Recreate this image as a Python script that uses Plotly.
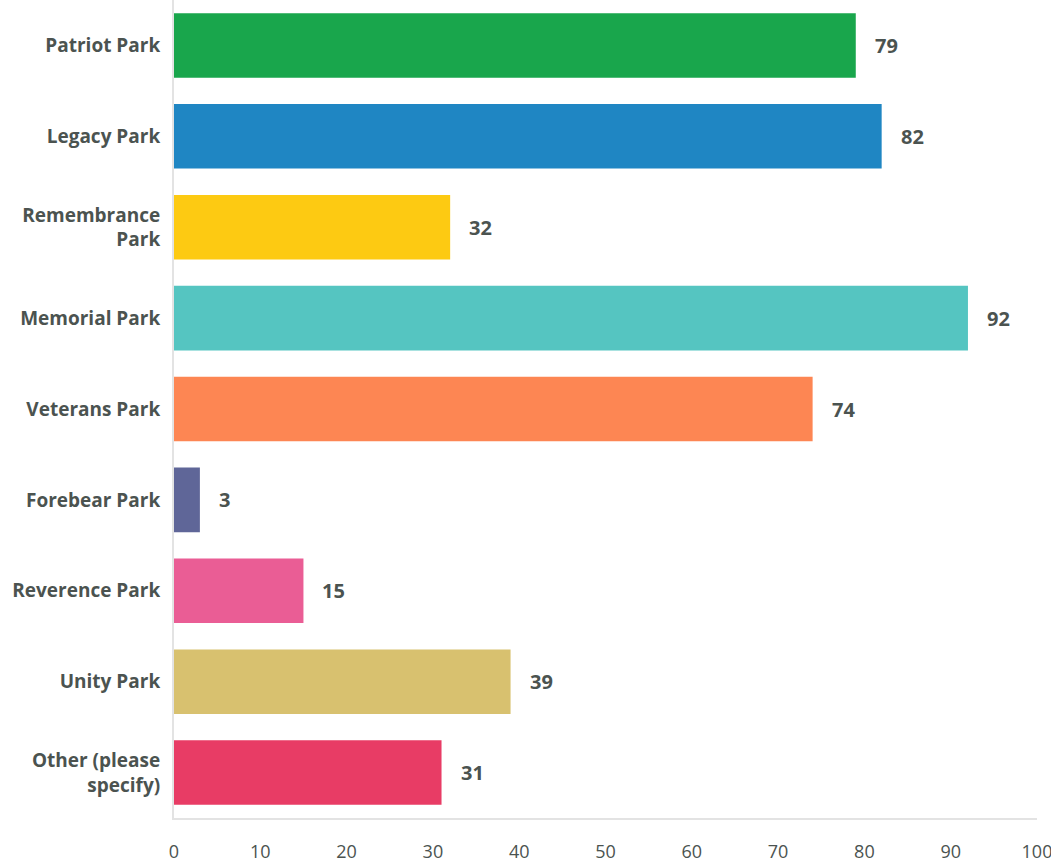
import plotly.graph_objects as go

categories = ["Patriot Park", "Legacy Park", "Remembrance<br>Park", "Memorial Park",
              "Veterans Park", "Forebear Park", "Reverence Park", "Unity Park",
              "Other (please<br>specify)"]
values = [79, 82, 32, 92, 74, 3, 15, 39, 31]
colors = ["#19a64c", "#1f86c3", "#fdca12", "#55c5c1", "#fd8653",
          "#5f6698", "#ea5d95", "#d8c16f", "#e83c65"]
x_ticks = [0, 10, 20, 30, 40, 50, 60, 70, 80, 90, 100]

text_color = "#4b5350"
font_family = "Open Sans, Roboto, sans-serif"

fig = go.Figure()
fig.add_trace(go.Bar(
    x=values, y=categories, orientation="h",
    marker=dict(color=colors, line=dict(width=0)),
    width=0.71, hoverinfo="x+y",
))

for c, v in zip(categories, values):
    fig.add_annotation(x=v, y=c, text=f"<b>{v}</b>", showarrow=False,
                       xanchor="left", xshift=17,
                       font=dict(size=20, color=text_color, family=font_family))

fig.update_layout(
    width=1051, height=862,
    margin=dict(l=174, r=14, t=0, b=44),
    paper_bgcolor="white", plot_bgcolor="white",
    showlegend=False,
    bargap=0.29,
    font=dict(family=font_family, color=text_color),
)
fig.update_yaxes(
    categoryorder="array", categoryarray=categories[::-1],
    autorange=False, range=[-0.5, len(categories) - 0.5],
    automargin=False,
    showline=True, linecolor="#e3e3e3", linewidth=2,
    showgrid=False, zeroline=False,
    ticks="outside", ticklen=8, tickcolor="rgba(0,0,0,0)",
    tickprefix="<b>", ticksuffix="</b>",
    tickfont=dict(size=19, color=text_color, family=font_family),
)
fig.update_xaxes(
    range=[0, 100], tickvals=x_ticks,
    ticktext=[str(t) for t in x_ticks],
    automargin=False, ticklabeloverflow="allow",
    showline=True, linecolor="#e3e3e3", linewidth=2,
    showgrid=False, zeroline=False,
    ticks="outside", ticklen=16, tickcolor="rgba(0,0,0,0)",
    tickfont=dict(size=18, color=text_color, family=font_family),
)
fig.write_html("out.html", config={"displayModeBar": False},
               post_script="document.body.style.margin='0';document.body.style.overflow='hidden';")
